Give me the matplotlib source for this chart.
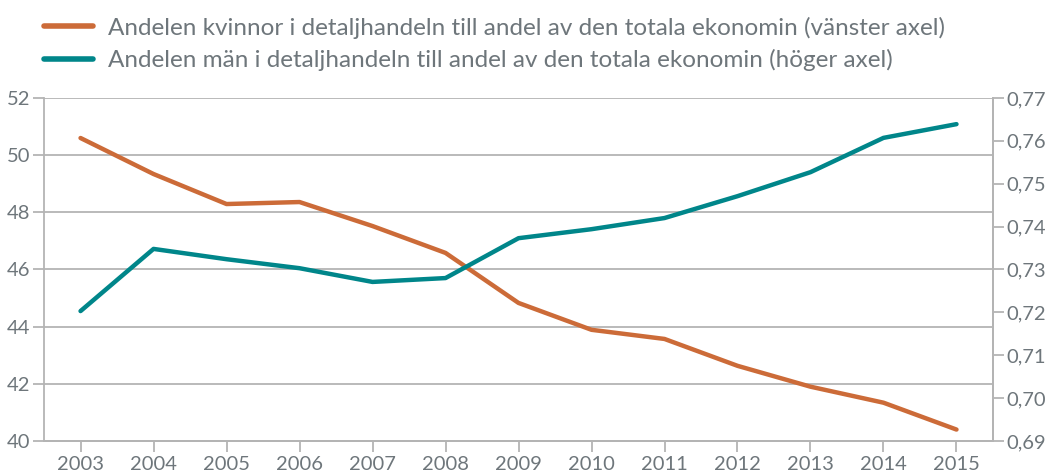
import matplotlib
matplotlib.use("Agg")
import matplotlib.pyplot as plt
from matplotlib.ticker import FixedLocator, FuncFormatter

years = [2003, 2004, 2005, 2006, 2007, 2008, 2009, 2010, 2011, 2012, 2013, 2014, 2015]
women = [50.60, 49.34, 48.29, 48.36, 47.52, 46.58, 44.83, 43.89, 43.57, 42.63, 41.90, 41.34, 40.40]
men = [0.7203, 0.7348, 0.7324, 0.7303, 0.7271, 0.7280, 0.7373, 0.7394, 0.7420, 0.7471, 0.7527, 0.7607, 0.7639]
label_women = "Andelen kvinnor i detaljhandeln till andel av den totala ekonomin (vänster axel)"
label_men = "Andelen män i detaljhandeln till andel av den totala ekonomin (höger axel)"
left_ticks = [40, 42, 44, 46, 48, 50, 52]
right_ticks = [0.69, 0.70, 0.71, 0.72, 0.73, 0.74, 0.75, 0.76, 0.77]

ORANGE = "#cc6b38"
TEAL = "#00868a"
TXT = "#6e767b"
GRID = "#b4b4b4"

plt.rcParams['font.family'] = ['Lato', 'DejaVu Sans']

fig = plt.figure(figsize=(10.51, 4.75), dpi=100)
ax = fig.add_axes([0.0419, 0.0716, 0.9029, 0.7221])
ax2 = ax.twinx()

l1, = ax.plot(years, women, color=ORANGE, lw=3.2, solid_capstyle='round', solid_joinstyle='round', zorder=3)
l2, = ax2.plot(years, men, color=TEAL, lw=3.2, solid_capstyle='round', solid_joinstyle='round', zorder=3)

ax.set_ylim(40, 52)
ax2.set_ylim(0.69, 0.77)
ax.set_xlim(2002.5, 2015.5)

ax.yaxis.set_major_locator(FixedLocator(left_ticks))
ax.yaxis.set_major_formatter(FuncFormatter(lambda v, p: f"{v:.0f}"))
ax2.yaxis.set_major_locator(FixedLocator(right_ticks))
ax2.yaxis.set_major_formatter(FuncFormatter(lambda v, p: f"{v:.2f}".replace(".", ",")))
ax.set_xticks(years)
ax.set_xticklabels([str(y) for y in years])

ax.grid(axis='y', color=GRID, lw=1.3)
ax.set_axisbelow(True)

for a in (ax, ax2):
    for s in a.spines.values():
        s.set_color(GRID)
        s.set_linewidth(1.3)
    a.spines['top'].set_visible(False)
    a.tick_params(colors=GRID, labelcolor=TXT, labelsize=14.5, width=1.3, length=8)
ax.tick_params(axis='y', pad=2)
ax2.tick_params(axis='y', pad=2)
ax.tick_params(axis='x', pad=3)
ax2.spines['left'].set_visible(False)

leg = fig.legend([l1, l2], [label_women, label_men], loc='upper left',
                 bbox_to_anchor=(0.033, 0.985), frameon=False, fontsize=17.5,
                 labelcolor=TXT, handlelength=2.0, handletextpad=0.6,
                 labelspacing=0.42, borderaxespad=0.0)
for h in leg.get_lines():
    h.set_linewidth(4)

fig.savefig("out.png", dpi=100)
